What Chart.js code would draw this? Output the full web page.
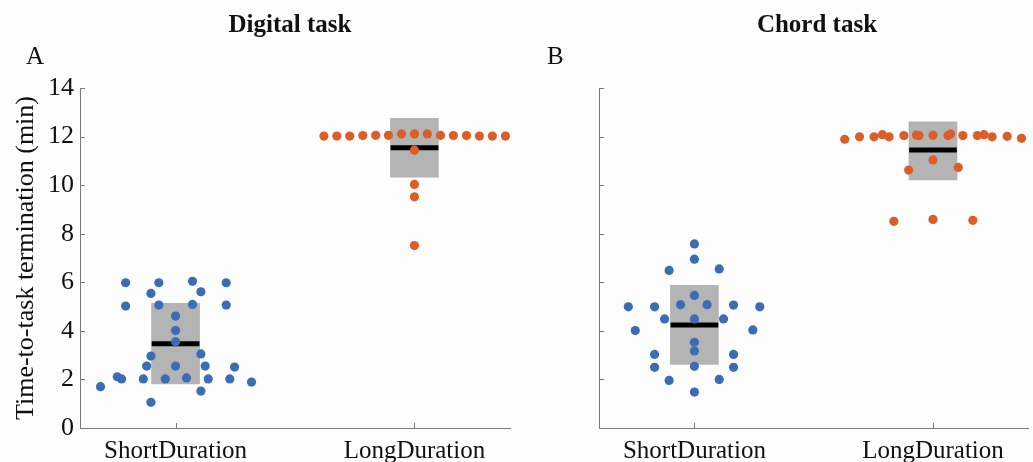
<!DOCTYPE html>
<html><head><meta charset="utf-8">
<script src="https://cdn.jsdelivr.net/npm/chart.js@4.4.1/dist/chart.umd.min.js"></script>
<style>
html,body{margin:0;padding:0;background:#fdfdfd;}
#wrap{position:relative;width:1033px;height:462px;overflow:hidden;background:#fdfdfd;}
.cv{position:absolute;top:0;height:462px;}
.lbl{position:absolute;font-family:'Liberation Serif','Times New Roman',serif;color:#111;font-size:25px;line-height:25px;white-space:nowrap;}
.ttl{font-weight:bold;text-align:center;width:400px;}
</style></head><body>
<div id="wrap">
  <div class="cv" style="left:0;width:520px"><canvas id="c1" width="520" height="462"></canvas></div>
  <div class="cv" style="left:520px;width:513px"><canvas id="c2" width="513" height="462"></canvas></div>
  <div class="lbl ttl" style="left:90px;top:11px">Digital task</div>
  <div class="lbl ttl" style="left:617px;top:11px">Chord task</div>
  <div class="lbl" style="left:26px;top:43px">A</div>
  <div class="lbl" style="left:547px;top:43px">B</div>
</div>
<script>
// ---------- data ----------
const categories = ['ShortDuration', 'LongDuration'];
const yTicks = [0, 2, 4, 6, 8, 10, 12, 14];
const panelTitles = ['Digital task', 'Chord task'];
const yAxisTitle = 'Time-to-task termination (min)';

// Digital task (A)
const digitalShortY = [5.98, 5.98, 6.04, 5.98, 5.54, 5.61, 5.02, 5.06, 5.09, 5.06, 4.61, 4.01, 3.55, 2.96, 3.05,
  2.55, 2.55, 2.55, 2.51, 2.11, 2.02, 2.02, 2.02, 2.06, 2.02, 2.02, 1.89, 1.70, 1.52, 1.06];
const digitalShortSwarm = [-0.209, -0.070, 0.071, 0.212, -0.103, 0.106, -0.209, -0.070, 0.071, 0.212, 0, 0, 0, -0.103, 0.106,
  -0.121, 0, 0.124, 0.247, -0.244, -0.226, -0.135, -0.043, 0.046, 0.137, 0.227, 0.318, -0.314, 0.106, -0.103];
const digitalLongY = [12.02, 12.02, 12.02, 12.04, 12.05, 12.05, 12.11, 12.11, 12.11, 12.05, 12.04, 12.04, 12.02, 12.02, 12.02,
  11.44, 10.03, 9.52, 7.51];
const digitalLongSwarm = [-0.379, -0.325, -0.271, -0.216, -0.162, -0.109, -0.054, 0, 0.054, 0.109, 0.163, 0.218, 0.272, 0.326, 0.381,
  0, 0, 0, 0];
const digitalQ1 = [1.81, 10.33];
const digitalQ3 = [5.13, 12.75];
const digitalMedian = [3.47, 11.54];

// Chord task (B)
const chordShortY = [7.58, 6.95, 6.49, 6.55, 5.46, 4.99, 4.99, 5.08, 5.08, 5.06, 4.99, 4.49, 4.49, 4.49, 4.01, 4.04,
  3.53, 3.17, 3.03, 3.03, 2.50, 2.54, 2.50, 1.96, 2.00, 1.48];
const chordShortSwarm = [0, 0, -0.106, 0.104, 0, -0.277, -0.167, -0.058, 0.053, 0.164, 0.274, -0.125, 0, 0.122, -0.248, 0.245,
  0, 0, -0.167, 0.164, -0.167, 0, 0.164, -0.106, 0.104, 0];
const chordLongY = [11.89, 11.99, 11.99, 12.08, 11.99, 12.04, 12.06, 12.04, 12.05, 12.04, 12.11, 12.04, 12.04, 12.08, 11.99, 12.01, 11.93,
  11.04, 10.62, 10.73, 8.51, 8.59, 8.55];
const chordLongSwarm = [-0.370, -0.308, -0.247, -0.212, -0.184, -0.122, -0.069, -0.059, 0, 0.063, 0.074, 0.125, 0.186, 0.214, 0.248, 0.311, 0.371,
  0, -0.102, 0.106, -0.164, 0, 0.167];
const chordQ1 = [2.62, 10.21];
const chordQ3 = [5.87, 12.61];
const chordMedian = [4.24, 11.45];

// ---------- styling ----------
const BLUE = '#3a6db3';
const ORANGE = '#dc5e26';
const BOX = '#b4b4b4';
const AXIS = '#7a7a7a';
const TEXT = '#111111';
const FONT = "'Liberation Serif','Times New Roman',serif";
const HALF = 0.1;

const innerTicks = {
  id: 'innerTicks',
  beforeDatasetsDraw(chart) {
    const ctx = chart.ctx, xs = chart.scales.x, ys = chart.scales.y, a = chart.chartArea;
    ctx.save();
    ctx.strokeStyle = AXIS; ctx.lineWidth = 1;
    ctx.beginPath();
    yTicks.forEach(v => { const py = Math.round(ys.getPixelForValue(v)) + 0.5; ctx.moveTo(a.left, py); ctx.lineTo(a.left + 5, py); });
    categories.forEach((c, i) => { const px = Math.round(xs.getPixelForValue(i + 1)) + 0.5; ctx.moveTo(px, a.bottom); ctx.lineTo(px, a.bottom - 5); });
    ctx.stroke();
    ctx.restore();
  }
};

function pts(ys, offs, cat) { return ys.map((v, i) => ({ x: cat + offs[i], y: v })); }

function makeChart(id, sY, sOff, lY, lOff, q1, q3, med, showY, yWidth, padRight) {
  const datasets = [
    { type: 'scatter', data: pts(sY, sOff, 1), backgroundColor: BLUE, borderWidth: 0, pointRadius: 4.6, order: 0 },
    { type: 'scatter', data: pts(lY, lOff, 2), backgroundColor: ORANGE, borderWidth: 0, pointRadius: 4.6, order: 0 },
  ];
  categories.forEach((c, i) => {
    datasets.push({ type: 'line', data: [{ x: i + 1 - HALF, y: med[i] }, { x: i + 1 + HALF, y: med[i] }],
      borderColor: '#000', borderWidth: 5, pointRadius: 0, borderCapStyle: 'butt', order: 1 });
  });
  datasets.push({ type: 'bar', data: categories.map((c, i) => ({ x: i + 1, y: [q1[i], q3[i]] })),
    backgroundColor: BOX, borderWidth: 0, barThickness: 48, order: 2 });

  return new Chart(document.getElementById(id), {
    type: 'scatter',
    data: { datasets },
    plugins: [innerTicks],
    options: {
      responsive: false, animation: false,
      layout: { padding: { left: 0, right: padRight, top: 88, bottom: 0 } },
      plugins: { legend: { display: false }, tooltip: { enabled: false } },
      scales: {
        x: {
          type: 'linear', min: 0.6, max: 2.4, offset: false,
          afterBuildTicks: s => { s.ticks = categories.map((c, i) => ({ value: i + 1 })); },
          afterFit: s => { s.height = 34; },
          grid: { display: false, drawTicks: false },
          border: { display: true, color: AXIS, width: 1 },
          ticks: { autoSkip: false, maxRotation: 0, padding: 8, color: TEXT, font: { family: FONT, size: 25 },
            callback: v => categories[Math.round(v) - 1] || '' }
        },
        y: {
          type: 'linear', min: 0, max: 14,
          afterBuildTicks: s => { s.ticks = yTicks.map(v => ({ value: v })); },
          afterFit: s => { s.width = yWidth; },
          grid: { display: false, drawTicks: false },
          border: { display: true, color: AXIS, width: 1 },
          ticks: { display: showY, padding: 6, color: TEXT, font: { family: FONT, size: 26 } },
          title: { display: showY, text: yAxisTitle, color: TEXT, font: { family: FONT, size: 26 }, padding: { top: 11, bottom: 4 } }
        }
      }
    }
  });
}

makeChart('c1', digitalShortY, digitalShortSwarm, digitalLongY, digitalLongSwarm, digitalQ1, digitalQ3, digitalMedian, true, 80, 10);
makeChart('c2', chordShortY, chordShortSwarm, chordLongY, chordLongSwarm, chordQ1, chordQ3, chordMedian, false, 79, 3);
</script>
</body></html>
